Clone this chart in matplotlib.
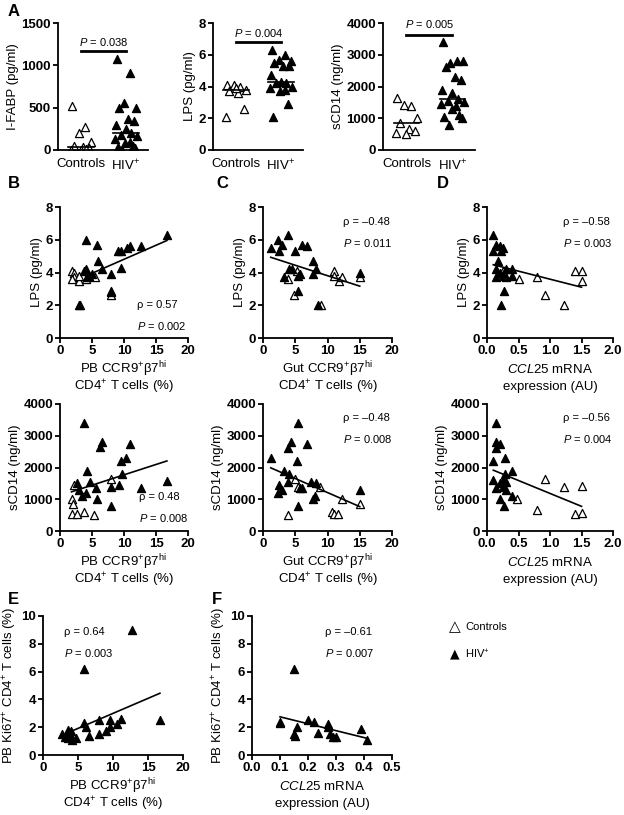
import numpy as np
import matplotlib
matplotlib.use("Agg")
import matplotlib.pyplot as plt

plt.rcParams['font.family'] = ['Liberation Sans', 'DejaVu Sans']
plt.rcParams['mathtext.fontset'] = 'custom'
plt.rcParams['mathtext.rm'] = 'Liberation Sans'
plt.rcParams['mathtext.it'] = 'Liberation Sans:italic'
plt.rcParams['mathtext.bf'] = 'Liberation Sans:bold'

# ---- Panel A data ----
ifabp_ctrl = [520, 270, 200, 100, 50, 30, 20, 0, 0, 10]
ifabp_hiv = [1070, 910, 560, 500, 500, 370, 340, 300, 250, 200, 180, 170, 130, 100, 80, 50, 30, 20, 0]
lps_ctrl = [4.1, 4.0, 4.1, 3.8, 3.7, 3.6, 2.6, 2.1, 3.9]
lps_hiv = [6.3, 6.0, 5.7, 5.6, 5.5, 5.3, 5.3, 4.7, 4.3, 4.2, 4.2, 4.0, 3.9, 3.8, 3.7, 2.9, 2.1]
scd14_ctrl = [1650, 1400, 1420, 1000, 850, 650, 600, 550, 500]
scd14_hiv = [3400, 2800, 2750, 2800, 2600, 2300, 2200, 1900, 1800, 1600, 1550, 1500, 1450, 1400, 1300, 1100, 1050, 1000, 800]

# ---- Scatter data ----
B_lps_hiv_x = [4, 5.8, 5.9, 6.5, 9, 9.5, 10.5, 11, 12.7, 16.7, 9.5, 8, 8, 8, 3, 3.8, 4, 4.5, 5, 4.2]
B_lps_hiv_y = [6.0, 5.7, 4.7, 4.2, 5.3, 5.3, 5.5, 5.6, 5.6, 6.3, 4.3, 3.9, 2.9, 2.8, 2.0, 4.1, 4.2, 3.8, 3.9, 3.7]
B_lps_ctl_x = [1.8, 2.2, 2.2, 1.8, 3, 3.2, 4, 5.5, 8, 3]
B_lps_ctl_y = [4.1, 4.0, 3.7, 3.6, 3.5, 2.0, 3.6, 3.7, 2.6, 3.8]

C_lps_hiv_x = [1.2, 2.3, 2.5, 3, 3.8, 5, 6, 6.8, 7.7, 8.2, 7.7, 4, 4.5, 3.3, 5.5, 5.8, 5.5, 8.5, 15]
C_lps_hiv_y = [5.5, 6.0, 5.3, 5.7, 6.3, 5.3, 5.7, 5.6, 4.7, 4.2, 3.9, 4.2, 4.2, 3.7, 3.8, 3.9, 2.9, 2.0, 4.0]
C_lps_ctl_x = [3.8, 5.3, 4.8, 9, 11, 11, 11.8, 12.3, 15]
C_lps_ctl_y = [3.6, 4.1, 2.6, 2.0, 4.1, 3.8, 3.5, 3.7, 3.7]

D_lps_hiv_x = [0.1, 0.15, 0.2, 0.25, 0.23, 0.1, 0.18, 0.15, 0.2, 0.3, 0.4, 0.25, 0.3, 0.15, 0.4, 0.27, 0.22]
D_lps_hiv_y = [6.3, 5.7, 5.6, 5.5, 5.3, 5.3, 4.7, 4.2, 4.0, 4.2, 4.2, 3.8, 3.7, 3.7, 3.8, 2.9, 2.0]
D_lps_ctl_x = [0.25, 0.5, 0.8, 0.92, 1.22, 1.4, 1.5, 1.5]
D_lps_ctl_y = [4.1, 3.6, 3.7, 2.6, 2.0, 4.1, 4.1, 3.5]

B_sc_hiv_x = [3.7, 6.2, 6.5, 11, 9.6, 10.3, 4.2, 4.7, 9.7, 8, 9.2, 12.7, 16.7, 5.7, 5.8, 8, 2.7, 3, 3.5, 4]
B_sc_hiv_y = [3400, 2650, 2800, 2750, 2200, 2300, 1900, 1550, 1800, 1400, 1450, 1350, 1580, 1350, 1000, 800, 1500, 1300, 1100, 1200]
B_sc_ctl_x = [1.8, 2, 2.2, 1.8, 2.7, 3.8, 5.3, 8]
B_sc_ctl_y = [1000, 850, 1450, 550, 550, 600, 500, 1650]

C_sc_hiv_x = [5.5, 4.3, 6.8, 3.8, 1.2, 5.2, 3.3, 4, 2.5, 3.9, 2.3, 3, 5.7, 6, 7.5, 8.2, 8, 7.7, 5.5, 15]
C_sc_hiv_y = [3400, 2800, 2750, 2600, 2300, 2200, 1900, 1800, 1450, 1550, 1200, 1300, 1350, 1350, 1550, 1500, 1100, 1000, 800, 1300]
C_sc_ctl_x = [5, 5.5, 8.8, 3.8, 10.7, 11, 11.7, 12.3, 15]
C_sc_ctl_y = [1650, 1400, 1380, 500, 600, 550, 550, 1000, 850]

D_sc_hiv_x = [0.15, 0.15, 0.2, 0.15, 0.1, 0.28, 0.28, 0.4, 0.1, 0.15, 0.2, 0.25, 0.3, 0.3, 0.2, 0.27, 0.4, 0.25]
D_sc_hiv_y = [3400, 2800, 2750, 2600, 2200, 2300, 1800, 1900, 1600, 1350, 1500, 1400, 1550, 1300, 1000, 800, 1100, 1600]
D_sc_ctl_x = [0.48, 0.8, 0.92, 1.22, 1.4, 1.5, 1.5]
D_sc_ctl_y = [1000, 650, 1650, 1400, 550, 1420, 580]

E_x = [2.7, 3.2, 3.5, 3.8, 4, 4.2, 4.7, 5.8, 6.2, 6.5, 8, 8, 9, 9.5, 9.5, 10.5, 11.2, 12.7, 16.7, 5.8, 3.5]
E_y = [1.5, 1.3, 1.8, 1.5, 1.7, 1.1, 1.2, 2.3, 2.0, 1.4, 2.5, 1.5, 1.7, 2.5, 2.0, 2.2, 2.6, 9.0, 2.5, 6.2, 1.2]
F_x = [0.1, 0.1, 0.15, 0.15, 0.155, 0.16, 0.2, 0.22, 0.235, 0.27, 0.27, 0.28, 0.29, 0.3, 0.39, 0.41]
F_y = [2.4, 2.3, 6.2, 1.5, 1.4, 2.0, 2.5, 2.4, 1.6, 2.2, 2.0, 1.5, 1.3, 1.3, 1.9, 1.1]

W, H = 624, 815
fig = plt.figure(figsize=(W/100, H/100), dpi=100)

def ax_px(x0, x1, ytop, ybot):
    return fig.add_axes([x0/W, 1-ybot/H, (x1-x0)/W, (ybot-ytop)/H])

TICK = 9.5
LAB = 9.5

def style(ax):
    for s in ['top', 'right']:
        ax.spines[s].set_visible(False)
    for s in ['left', 'bottom']:
        ax.spines[s].set_linewidth(1.3)
    ax.tick_params(width=1.3, length=3.5, labelsize=TICK, pad=1.5)
    for t in ax.get_xticklabels() + ax.get_yticklabels():
        t.set_fontweight('bold')

tri = dict(marker='^', s=34, edgecolors='black', linewidths=0.9)
JIT = np.array([-0.2, 0.1, -0.05, 0.22, -0.15, 0.05, 0.18, -0.22, 0.0, 0.12, -0.1, 0.25, -0.25, 0.08, -0.02, 0.15, -0.18, 0.2, -0.08])

def dotplot(ax, ctrl, hiv, ymax, ticks, ylabel, ptxt, bary, ptexty):
    ax.scatter(1 + JIT[:len(ctrl)], ctrl, facecolors='white', **tri)
    ax.scatter(2 + JIT[:len(hiv)], hiv, facecolors='black', **tri)
    ax.plot([0.72, 1.28], [np.median(ctrl)]*2, 'k-', lw=1.2)
    ax.plot([1.72, 2.28], [np.median(hiv)]*2, 'k-', lw=1.2)
    ax.plot([1, 2], [bary, bary], 'k-', lw=2)
    ax.text(1.5, ptexty, r'$\it{P}$ = ' + ptxt, ha='center', va='bottom', fontsize=8)
    ax.set_xlim(0.49, 2.49)
    ax.set_ylim(0, ymax)
    ax.set_yticks(ticks)
    ax.set_xticks([1, 2])
    ax.set_ylabel(ylabel, fontsize=LAB, labelpad=2)
    style(ax)
    ax.set_xticklabels(['Controls', 'HIV$^{+}$'], fontsize=LAB, fontweight='normal')
    ax.tick_params(axis='x', length=0, pad=6)

a1 = ax_px(58, 148, 23, 150)
dotplot(a1, ifabp_ctrl, ifabp_hiv, 1500, [0, 500, 1000, 1500], 'I-FABP (pg/ml)', '0.038', 1170, 1210)
a2 = ax_px(213, 303, 23, 150)
dotplot(a2, lps_ctrl, lps_hiv, 8, [0, 2, 4, 6, 8], 'LPS (pg/ml)', '0.004', 6.8, 7.0)
a3 = ax_px(383, 475, 23, 150)
dotplot(a3, scd14_ctrl, scd14_hiv, 4000, [0, 1000, 2000, 3000, 4000], 'sCD14 (ng/ml)', '0.005', 3620, 3780)

def scatter(ax, hx, hy, cx, cy, xlim, xticks, ylim, yticks, xlabel, ylabel, rho, p, txy, fitx=None):
    if cx:
        ax.scatter(cx, cy, facecolors='white', **tri)
    ax.scatter(hx, hy, facecolors='black', **tri)
    ax_all = np.array(list(hx) + list(cx)); ay_all = np.array(list(hy) + list(cy))
    k, b = np.polyfit(ax_all, ay_all, 1)
    if fitx is None:
        fitx = (ax_all.min(), ax_all.max())
    xs = np.array(fitx)
    ax.plot(xs, k*xs + b, 'k-', lw=1.2)
    ax.set_xlim(xlim); ax.set_ylim(ylim)
    ax.set_xticks(xticks); ax.set_yticks(yticks)
    for i, line in enumerate(xlabel):
        ax.annotate(line, xy=(0.5, 0), xycoords='axes fraction', xytext=(0, -31 - 18*i),
                    textcoords='offset pixels', ha='center', va='center', fontsize=LAB)
    ax.set_ylabel(ylabel, fontsize=LAB, labelpad=2)
    ax.text(txy[0], txy[1], 'ρ = ' + rho + '\n' + r'$\it{P}$ = ' + p, transform=ax.transAxes,
            fontsize=8, va='top', ha='left', linespacing=2.0)
    style(ax)

pb = ['PB CCR9$^{+}$β7$^{\\mathrm{hi}}$', 'CD4$^{+}$ T cells (%)']
gut = ['Gut CCR9$^{+}$β7$^{\\mathrm{hi}}$', 'CD4$^{+}$ T cells (%)']
ccl = ['$\\it{CCL25}$ mRNA', 'expression (AU)']
ki = 'PB Ki67$^{+}$ CD4$^{+}$ T cells (%)'
x20 = [0, 5, 10, 15, 20]
x2 = [0.0, 0.5, 1.0, 1.5, 2.0]

r1t, r1b = 207, 338
r2t, r2b = 404, 531
bx = (60, 188); cx_ = (263, 392); dx = (487, 613)

ax = ax_px(*bx, r1t, r1b)
scatter(ax, B_lps_hiv_x, B_lps_hiv_y, B_lps_ctl_x, B_lps_ctl_y, (0, 20), x20, (0, 8), [0, 2, 4, 6, 8], pb, 'LPS (pg/ml)', '0.57', '0.002', (0.6, 0.29), fitx=(4, 16.7))
ax = ax_px(*cx_, r1t, r1b)
scatter(ax, C_lps_hiv_x, C_lps_hiv_y, C_lps_ctl_x, C_lps_ctl_y, (0, 20), x20, (0, 8), [0, 2, 4, 6, 8], gut, 'LPS (pg/ml)', '–0.48', '0.011', (0.62, 0.92))
ax = ax_px(*dx, r1t, r1b)
scatter(ax, D_lps_hiv_x, D_lps_hiv_y, D_lps_ctl_x, D_lps_ctl_y, (0, 2), x2, (0, 8), [0, 2, 4, 6, 8], ccl, 'LPS (pg/ml)', '–0.58', '0.003', (0.6, 0.92))

ax = ax_px(*bx, r2t, r2b)
scatter(ax, B_sc_hiv_x, B_sc_hiv_y, B_sc_ctl_x, B_sc_ctl_y, (0, 20), x20, (0, 4000), [0, 1000, 2000, 3000, 4000], pb, 'sCD14 (ng/ml)', '0.48', '0.008', (0.62, 0.31))
ax = ax_px(*cx_, r2t, r2b)
scatter(ax, C_sc_hiv_x, C_sc_hiv_y, C_sc_ctl_x, C_sc_ctl_y, (0, 20), x20, (0, 4000), [0, 1000, 2000, 3000, 4000], gut, 'sCD14 (ng/ml)', '–0.48', '0.008', (0.62, 0.93))
ax = ax_px(*dx, r2t, r2b)
scatter(ax, D_sc_hiv_x, D_sc_hiv_y, D_sc_ctl_x, D_sc_ctl_y, (0, 2), x2, (0, 4000), [0, 1000, 2000, 3000, 4000], ccl, 'sCD14 (ng/ml)', '–0.56', '0.004', (0.6, 0.93))

ax = ax_px(43, 183, 616, 755)
scatter(ax, E_x, E_y, [], [], (0, 20), x20, (0, 10), [0, 2, 4, 6, 8, 10], pb, ki, '0.64', '0.003', (0.15, 0.92), fitx=(4, 16.7))
ax = ax_px(252, 392, 616, 755)
scatter(ax, F_x, F_y, [], [], (0, 0.5), [0.0, 0.1, 0.2, 0.3, 0.4, 0.5], (0, 10), [0, 2, 4, 6, 8, 10], ccl, ki, '–0.61', '0.007', (0.52, 0.92))

# legend
fig.text(455/W, 1-627/H, '△', fontsize=11, fontweight='bold', va='center', ha='center', family='DejaVu Sans')
fig.text(465/W, 1-627/H, 'Controls', fontsize=8, va='center')
fig.text(455/W, 1-654/H, '▲', fontsize=9, va='center', ha='center', family='DejaVu Sans')
fig.text(465/W, 1-654/H, 'HIV$^{+}$', fontsize=8, va='center')

for lbl, x, y in [('A', 8, 4), ('B', 8, 176), ('C', 216, 176), ('D', 437, 176), ('E', 8, 592), ('F', 212, 592)]:
    fig.text(x/W, 1-y/H, lbl, fontsize=12, fontweight='bold', va='top')

fig.savefig('out.png', dpi=100)
